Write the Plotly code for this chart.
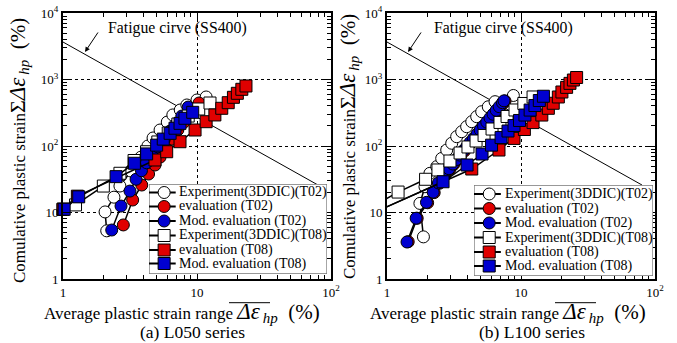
import plotly.graph_objects as go

W, H = 677, 343
FONT = "Liberation Serif, Times New Roman, serif"

# ---------------- data: (a) L050 series ----------------
a_t02_exp_x = [2.12, 2.06, 2.40, 2.66, 3.22, 3.82, 4.3, 4.7, 5.3, 6.0, 6.6, 7.5, 8.4, 10.0, 11.7]
a_t02_exp_y = [5.3, 10.2, 17, 25, 42, 68, 100, 132, 174, 229, 293, 348, 414, 492, 546]
a_t02_eval_x = [2.82, 3.31, 3.87, 4.35, 4.86, 5.3, 5.87, 6.5, 7.2, 8.0, 8.9, 9.7, 10.35]
a_t02_eval_y = [6.5, 15.4, 25.9, 37.9, 51.8, 68, 93, 127, 175, 229, 303, 372, 443]
a_t02_mod_x = [2.31, 2.71, 3.16, 3.51, 3.85, 4.2, 4.62, 5.1, 5.7, 6.3, 7.0, 7.7, 8.6]
a_t02_mod_y = [5.45, 12.5, 21, 31.6, 42.5, 56, 73, 97, 127, 168, 214, 282, 385]
a_t08_exp_x = [1.0, 1.24, 2.0, 2.66, 3.39, 4.2, 5.1, 6.1, 7.2, 8.6, 10.3, 12.5]
a_t08_exp_y = [11.2, 13, 25, 38.9, 60.5, 82, 115, 157, 214, 282, 360, 443]
a_t08_eval_x = [1.0, 1.28, 4.86, 5.94, 7.47, 9.67, 11.7, 13.6, 15.3, 17.1, 18.7, 20.0, 21.6, 23.2]
a_t08_eval_y = [11.2, 17.6, 61.6, 82, 116, 174, 232, 293, 369, 448, 540, 620, 712, 799]
a_t08_mod_x = [1.02, 1.31, 2.49, 3.41, 4.21, 5.0, 5.6, 6.3, 6.85, 7.47, 8.13, 9.29]
a_t08_mod_y = [11.2, 17.2, 34.6, 55, 76, 103, 127, 155, 185, 219, 261, 321]

# ---------------- data: (b) L100 series ----------------
b_t02_exp_x = [1.87, 1.76, 1.92, 2.09, 2.35, 2.56, 2.79, 3.04, 3.31, 3.61, 3.93, 4.29, 4.67, 5.09, 5.7, 6.4, 8.77]
b_t02_exp_y = [4.3, 13.7, 24.4, 38.8, 48.9, 65, 87, 110, 138, 164, 195, 232, 276, 328, 389, 464, 575]
b_t02_eval_x = [1.44, 1.68, 2.01, 2.25, 2.46, 2.71, 2.95, 3.15, 3.35, 3.55, 3.78, 4.0, 4.25, 4.5, 4.78,
                5.05, 5.35, 5.65, 5.98, 6.3, 6.65, 7.0, 7.4, 7.6]
b_t02_eval_y = [3.64, 8.2, 14, 19.9, 27.5, 36.6, 45, 53, 62, 72, 84, 96, 112, 129, 150,
                172, 198, 227, 262, 298, 341, 387, 444, 475]
b_t02_mod_x = [1.41, 1.65, 1.97, 2.21, 2.42, 2.66, 2.90, 3.10, 3.29, 3.49, 3.71, 3.93, 4.17, 4.42, 4.70,
               4.96, 5.25, 5.55, 5.87, 6.19, 6.53, 6.88, 7.27, 7.47]
b_t02_mod_y = [3.6, 8.2, 14.2, 20.2, 27.8, 37, 45.5, 53.5, 62.5, 73, 85, 97, 113, 130, 151,
               174, 200, 229, 264, 300, 344, 390, 447, 478]
b_t08_exp_x = [0.7, 1.21, 1.94, 2.40, 2.95, 3.51, 4.02, 4.62, 5.3, 6.08, 6.97, 7.87, 9.02, 10.5, 12.3]
b_t08_exp_y = [10.9, 20.3, 31.6, 43.6, 59.5, 78.5, 96.7, 119, 144, 180, 226, 278, 348, 436, 546]
b_t08_eval_x = [0.6, 4.29, 6.85, 8.87, 10.6, 12.3, 14.3, 16.0, 17.4, 19.0, 20.2, 21.9, 23.2, 24.6, 26.0]
b_t08_eval_y = [7.7, 45.1, 87, 130, 177, 225, 292, 369, 439, 546, 649, 762, 875, 982, 1072]
b_t08_mod_x = [0.6, 2.62, 3.96, 5.12, 6.03, 7.1, 8.0, 8.87, 9.75, 10.7, 11.7, 12.7, 13.7, 14.7]
b_t08_mod_y = [7.7, 29.0, 51.8, 75.8, 103, 134, 168, 203, 242, 292, 347, 406, 483, 560]

# fatigue curve (SS400) end points
fatigue_x = [1, 80]
fatigue_y = [3660, 25.9]

series_names = ["Experiment(3DDIC)(T02)", "evaluation (T02)", "Mod. evaluation (T02)",
                "Experiment(3DDIC)(T08)", "evaluation (T08)", "Mod. evaluation (T08)"]
series_symbols = ["circle", "circle", "circle", "square", "square", "square"]
series_colors = ["#ffffff", "#e00000", "#0000d0", "#ffffff", "#e00000", "#0000d0"]

panel_a = [(a_t02_exp_x, a_t02_exp_y), (a_t02_eval_x, a_t02_eval_y), (a_t02_mod_x, a_t02_mod_y),
           (a_t08_exp_x, a_t08_exp_y), (a_t08_eval_x, a_t08_eval_y), (a_t08_mod_x, a_t08_mod_y)]
panel_b = [(b_t02_exp_x, b_t02_exp_y), (b_t02_eval_x, b_t02_eval_y), (b_t02_mod_x, b_t02_mod_y),
           (b_t08_exp_x, b_t08_exp_y), (b_t08_eval_x, b_t08_eval_y), (b_t08_mod_x, b_t08_mod_y)]

fig = go.Figure()

# geometry (pixels)
T, B = 13, 64
PH = H - T - B
def py(p):  # pixel y -> paper
    return (H - B - p) / PH
def px(p):
    return p / W

panels = [
    dict(data=panel_a, xa="x", ya="y", clip=False,
         leg="x3", legy="y3", legbox=[149, 327, 184, 274],
         rows=[192.5, 206.5, 221, 235.5, 250, 263.5]),
    dict(data=panel_b, xa="x2", ya="y2", clip=True,
         leg="x4", legy="y4", legbox=[474, 653, 185, 276],
         rows=[194, 208.5, 223, 237.5, 252, 266]),
]

for p in panels:
    fig.add_trace(go.Scatter(x=fatigue_x, y=fatigue_y, mode="lines", xaxis=p["xa"], yaxis=p["ya"],
                             line=dict(color="black", width=1), showlegend=False, hoverinfo="skip"))
    for (xs, ys), nm, sym, col in zip(p["data"], series_names, series_symbols, series_colors):
        fig.add_trace(go.Scatter(x=xs, y=ys, mode="lines+markers", name=nm, xaxis=p["xa"], yaxis=p["ya"],
                                 cliponaxis=p["clip"], showlegend=False,
                                 line=dict(color="black", width=1.5),
                                 marker=dict(symbol=sym, size=12, color=col,
                                             line=dict(color="black", width=1))))

# hand-drawn legends (compact rows like the reference)
annotations = []
for p in panels:
    x0, x1, y0, y1 = p["legbox"]
    fig.add_trace(go.Scatter(x=[0, 1, 1, 0, 0], y=[0, 0, 1, 1, 0], mode="lines", fill="toself",
                             fillcolor="white", line=dict(color="#777777", width=1.3),
                             xaxis=p["leg"], yaxis=p["legy"], cliponaxis=False,
                             showlegend=False, hoverinfo="skip"))
    for r, nm, sym, col in zip(p["rows"], series_names, series_symbols, series_colors):
        yy = (y1 - r) / (y1 - y0)
        fig.add_trace(go.Scatter(x=[0.0, 0.085, 0.15], y=[yy, yy, yy], mode="lines",
                                 xaxis=p["leg"], yaxis=p["legy"], cliponaxis=False, showlegend=False,
                                 line=dict(color="black", width=2), hoverinfo="skip"))
        fig.add_trace(go.Scatter(x=[0.085], y=[yy], mode="markers",
                                 xaxis=p["leg"], yaxis=p["legy"], cliponaxis=False, showlegend=False,
                                 marker=dict(symbol=sym, size=12, color=col, line=dict(color="black", width=1)),
                                 hoverinfo="skip"))
        annotations.append(dict(x=0.16, y=yy, xref=p["leg"], yref=p["legy"], text=nm, showarrow=False,
                                xanchor="left", yanchor="middle",
                                font=dict(family=FONT, size=14, color="black")))

def log_axis(dom, anchor, tickvals, ticktext, minor_vals, rng):
    return dict(type="log", range=rng, domain=dom, anchor=anchor,
                showline=True, linewidth=2, linecolor="black", mirror="ticks",
                ticks="inside", ticklen=7, tickwidth=1, tickcolor="black",
                tickvals=tickvals, ticktext=ticktext,
                tickfont=dict(family=FONT, size=13, color="black"),
                showgrid=True, gridcolor="black", gridwidth=1, griddash="dot",
                zeroline=False, automargin=False,
                minor=dict(ticks="inside", ticklen=4, tickwidth=1, tickcolor="black",
                           tickvals=minor_vals, showgrid=False))

xminor = [2, 3, 4, 5, 6, 7, 8, 9, 20, 30, 40, 50, 60, 70, 80, 90]
yminor = [m * d for d in [1, 10, 100, 1000] for m in range(2, 10)]
xt = [1, 10, 100]
xtt = ["1", "10", "10<sup>2</sup>"]
yt = [1, 10, 100, 1000, 10000]
ytt = ["1", "10", "10<sup>2</sup>", "10<sup>3</sup>", "10<sup>4</sup>"]

layout = dict(
    width=W, height=H, margin=dict(l=0, r=0, t=T, b=B),
    paper_bgcolor="white", plot_bgcolor="white",
    font=dict(family=FONT, color="black"),
    showlegend=False,
    xaxis=log_axis([px(63), px(331)], "y", xt, xtt, xminor, [0, 2]),
    yaxis=log_axis([0, 1], "x", yt, ytt, yminor, [0, 4]),
    xaxis2=log_axis([px(387), px(655)], "y2", xt, xtt, xminor, [0, 2]),
    yaxis2=log_axis([0, 1], "x2", yt, ytt, yminor, [0, 4]),
)
for p, xn, yn in [(panels[0], "xaxis3", "yaxis3"), (panels[1], "xaxis4", "yaxis4")]:
    x0, x1, y0, y1 = p["legbox"]
    layout[xn] = dict(domain=[px(x0), px(x1)], range=[0, 1], visible=False, anchor=p["legy"],
                      fixedrange=True, showgrid=False, zeroline=False)
    layout[yn] = dict(domain=[py(y1), py(y0)], range=[0, 1], visible=False, anchor=p["leg"],
                      fixedrange=True, showgrid=False, zeroline=False)

fig.update_layout(**layout)

sym_part = ("<span style='font-size:23px'><i>Δε</i></span>"
            "<sub><span style='font-size:15px'>\u2009<i>hp</i></span></sub>"
            "<span style='font-size:21px'>\u2002(%)</span>")
ttl = "Average plastic strain range " + sym_part
yttl = "Comulative plastic strain<span style='font-size:22px'>Σ</span>" + sym_part
for tx, cy2, lab, ytx, yty in [(42, 192.5, "(a) L050 series", 18, 151),
                               (368, 532, "(b) L100 series", 348, 147)]:
    annotations.append(dict(x=px(tx), y=py(312), xref="paper", yref="paper", text=ttl, showarrow=False,
                            xanchor="left", yanchor="middle", font=dict(family=FONT, size=17)))
    annotations.append(dict(x=px(cy2), y=py(332), xref="paper", yref="paper", text=lab, showarrow=False,
                            xanchor="center", yanchor="middle", font=dict(family=FONT, size=17.5)))
    annotations.append(dict(x=px(ytx), y=py(yty), xref="paper", yref="paper", text=yttl, showarrow=False,
                            textangle=-90, xanchor="center", yanchor="middle", font=dict(family=FONT, size=17)))

# fatigue curve labels with arrows
for xr, yr, tip_lx, cx in [("x", "y", 0.164, 177.5), ("x2", "y2", 0.157, 503)]:
    annotations.append(dict(x=tip_lx, y=3.414, xref=xr, yref=yr, text="", showarrow=True,
                            ax=14, ay=-21, axref="pixel", ayref="pixel",
                            arrowhead=2, arrowsize=1, arrowwidth=1, arrowcolor="black"))
    annotations.append(dict(x=px(cx), y=py(28), xref="paper", yref="paper", text="Fatigue cirve (SS400)",
                            showarrow=False, xanchor="center", yanchor="middle",
                            font=dict(family=FONT, size=15.8)))

fig.update_layout(annotations=annotations)

# overlines above the Δε_hp symbol in the x titles
shapes = []
for x0, x1 in [(229, 270), (555, 596)]:
    shapes.append(dict(type="line", xref="paper", yref="paper", x0=px(x0), x1=px(x1),
                       y0=py(302.7), y1=py(302.7), line=dict(color="black", width=1)))
fig.update_layout(shapes=shapes)

fig.write_html("out.html", config={"displayModeBar": False},
               post_script="document.body.style.margin='0';document.body.style.padding='0';"
                           "document.body.style.overflow='hidden';")
